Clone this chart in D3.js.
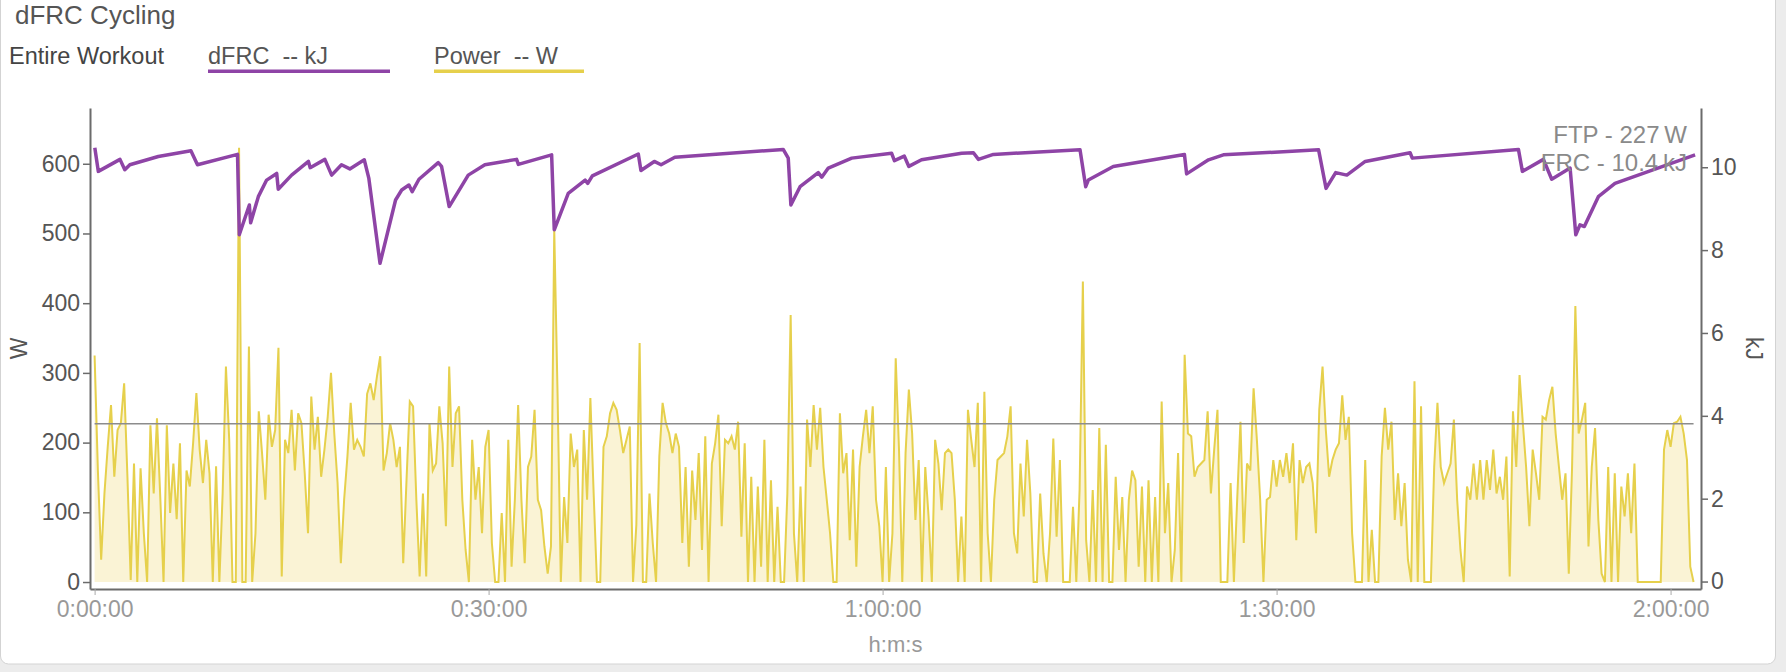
<!DOCTYPE html>
<html>
<head>
<meta charset="utf-8">
<script src="https://cdn.jsdelivr.net/npm/d3@7"></script>
<style>
  body { margin: 0; background: #ececec; }
  svg { display: block; font-family: "Helvetica Neue", Helvetica, Arial, "Liberation Sans", sans-serif; }
  .pre { white-space: pre; }
</style>
</head>
<body>
<svg id="chart" width="1786" height="672"></svg>
<script>
// dFRC cycling chart: power (W, left axis) and dFRC (kJ, right axis) over workout time

var FTP = 227;          // W
var FRC = 10.4;         // kJ
var sampleStep = 15;    // seconds between power samples

// power readings, one every 15 s from 0:00:00
var powerW = [
  325,160,32,127,194,254,151,218,228,285,
  151,3,170,0,163,70,0,225,127,235,
  122,0,225,99,170,90,199,0,160,137,
  199,271,190,142,204,156,0,166,0,127,
  309,204,0,0,623,0,0,338,0,70,
  245,185,118,240,194,218,336,8,204,185,
  247,160,242,228,156,70,266,190,237,151,
  190,237,300,213,142,27,118,180,257,190,
  204,
  194,180,270,285,261,295,324,160,185,228,
  204,165,194,27,146,259,252,118,8,127,
  8,228,160,170,252,199,80,309,165,242,
  252,118,46,0,204,118,165,70,194,218,
  56,0,0,99,0,204,22,118,254,118,
  27,165,180,247,118,103,51,12,51,505,
  271,0,122,56,213,165,190,0,218,118,
  264,127,0,0,194,209,242,257,247,218,
  185,204,223,
  0,82,343,0,0,127,56,0,180,257,
  228,213,185,213,194,56,165,22,160,89,
  185,46,209,0,170,199,240,80,204,199,
  209,190,230,65,199,0,151,0,137,22,
  204,0,146,0,108,0,0,127,383,70,
  0,137,0,233,165,254,190,250,165,118,
  70,0,0,242,156,185,60,190,22,165,
  209,247,185,252,118,80,0,165,0,70,
  321,190,
  0,185,276,213,89,175,0,165,94,0,
  204,170,103,185,190,185,118,0,94,0,
  247,204,165,257,0,273,70,0,118,175,
  180,185,209,252,70,41,170,94,204,127,
  0,0,127,41,0,70,206,65,175,0,
  0,0,108,0,132,431,60,0,132,0,
  221,0,197,0,0,151,46,122,0,118,
  160,146,22,137,0,146,0,122,0,259,
  70,142,
  0,46,185,0,326,213,209,151,165,170,
  175,245,127,190,247,0,0,0,142,0,
  118,230,56,170,160,278,204,118,0,118,
  122,175,137,175,151,185,142,199,60,175,
  142,165,170,142,70,247,309,218,151,175,
  190,199,268,204,237,70,0,0,0,175,
  0,75,0,0,180,250,190,230,89,156,
  80,142,32,0,288,0,252,0,0,0,
  165,257,
  165,142,156,170,233,118,46,0,137,118,
  170,118,175,118,175,132,190,127,151,118,
  180,8,245,165,297,228,165,80,190,156,
  118,237,233,261,280,213,165,118,156,12,
  165,396,213,233,257,51,165,221,89,12,
  0,165,0,156,0,137,94,156,70,170,
  0,0,0,0,0,0,0,0,190,218,
  194,228,230,237,213,175,22,0
];

// dFRC points (seconds, kJ)
var dfrcT = [1,17,116,138,161,291,440,470,653,661,707,713,748,786,832,839,900,977,985,1052,
  1083,1128,1166,1232,1253,1304,1375,1403,1436,1451,1482,1570,1585,1620,1707,1783,1928,1936,
  2088,2100,2164,2241,2253,2274,2484,2496,2557,2588,2651,3146,3169,3181,3223,3306,3322,3352,
  3459,3641,3654,3699,3720,3778,3961,4015,4038,4106,4502,4528,4540,4654,4979,4989,5089,5157,
  5592,5626,5670,5721,5805,6010,6020,6505,6523,6619,6657,6741,6767,6786,6806,6870,6946,7312];
var dfrcKJ = [10.47,9.90,10.19,9.94,10.06,10.26,10.40,10.06,10.31,8.37,9.09,8.66,9.29,9.69,9.85,9.47,9.81,10.14,9.99,10.19,
  9.81,10.06,9.96,10.18,9.73,7.68,9.21,9.45,9.57,9.41,9.71,10.11,10.02,9.05,9.81,10.06,10.19,10.07,
  10.30,8.49,9.37,9.69,9.61,9.79,10.32,9.92,10.14,10.06,10.24,10.43,10.22,9.09,9.53,9.87,9.76,9.98,
  10.22,10.34,10.16,10.27,10.02,10.18,10.34,10.35,10.19,10.31,10.42,9.53,9.69,10.02,10.31,9.84,10.18,10.30,
  10.42,9.49,9.87,9.81,10.14,10.35,10.22,10.43,9.90,10.19,9.71,9.98,8.37,8.61,8.57,9.29,9.61,10.30];

var wTicks = [0,100,200,300,400,500,600];
var kjTicks = [0,2,4,6,8,10];
var timeTicks = [0,1800,3600,5400,7200];

var svg = d3.select('#chart');

// card
svg.append('rect')
  .attr('x', 0.5).attr('y', -10)
  .attr('width', 1775).attr('height', 674)
  .attr('rx', 8)
  .attr('fill', '#fff')
  .attr('stroke', '#d3d3d3');

var plot = {left: 90, right: 1701, top: 108, bottom: 589};

var x = d3.scaleLinear().domain([-21, 7339]).range([plot.left, plot.right]);
var yW = d3.scaleLinear().domain([-10, 680]).range([plot.bottom, plot.top]);
var yKJ = d3.scaleLinear().domain([-0.18, 11.43]).range([plot.bottom, plot.top]);

var power = powerW.map(function(v, i) { return {t: i * sampleStep, w: v}; });
var dfrc = dfrcT.map(function(t, i) { return {t: t, kj: dfrcKJ[i]}; });

// power area + line
svg.append('path')
  .datum(power)
  .attr('fill', '#faf3d5')
  .attr('d', d3.area().x(d => x(d.t)).y0(yW(0)).y1(d => yW(d.w)));

svg.append('path')
  .datum(power)
  .attr('fill', 'none')
  .attr('stroke', '#e6d04c')
  .attr('stroke-width', 2)
  .attr('d', d3.line().x(d => x(d.t)).y(d => yW(d.w)));

// FTP line
svg.append('line')
  .attr('x1', x(0)).attr('x2', x(power[power.length - 1].t))
  .attr('y1', yW(FTP)).attr('y2', yW(FTP))
  .attr('stroke', '#8c8c8c')
  .attr('stroke-width', 1.6);

// dFRC line
svg.append('path')
  .datum(dfrc)
  .attr('fill', 'none')
  .attr('stroke', '#8e44a6')
  .attr('stroke-width', 3.5)
  .attr('stroke-linejoin', 'round')
  .attr('d', d3.line().x(d => x(d.t)).y(d => yKJ(d.kj)));

// axes
function styleAxis(g, color) {
  g.select('.domain').attr('stroke', '#6b6b6b').attr('stroke-width', 2);
  g.selectAll('.tick line').attr('stroke', '#6b6b6b').attr('stroke-width', 1.5);
  g.selectAll('.tick text').attr('fill', color).attr('font-size', 23).attr('font-family', null);
}

var gl = svg.append('g')
  .attr('transform', 'translate(' + plot.left + ',0)')
  .call(d3.axisLeft(yW).tickValues(wTicks).tickSize(7).tickSizeOuter(0).tickPadding(3));
styleAxis(gl, '#555');

var gr = svg.append('g')
  .attr('transform', 'translate(' + plot.right + ',0)')
  .call(d3.axisRight(yKJ).tickValues(kjTicks).tickSize(7).tickSizeOuter(0).tickPadding(3));
styleAxis(gr, '#555');

function hms(s) {
  var h = Math.floor(s / 3600), m = Math.floor((s % 3600) / 60), sec = s % 60;
  return h + ':' + String(m).padStart(2, '0') + ':' + String(sec).padStart(2, '0');
}

var gb = svg.append('g')
  .attr('transform', 'translate(0,' + plot.bottom + ')')
  .call(d3.axisBottom(x).tickValues(timeTicks).tickFormat(hms).tickSize(6).tickSizeOuter(0).tickPadding(6));
styleAxis(gb, '#999');
gb.selectAll('.tick line').attr('stroke', '#aaa').attr('stroke-width', 1);

// axis titles
svg.append('text')
  .attr('transform', 'translate(27,' + (plot.top + plot.bottom) / 2 + ') rotate(-90)')
  .attr('text-anchor', 'middle')
  .attr('fill', '#555').attr('font-size', 23)
  .text('W');

svg.append('text')
  .attr('transform', 'translate(1746,' + (plot.top + plot.bottom) / 2 + ') rotate(90)')
  .attr('text-anchor', 'middle')
  .attr('fill', '#555').attr('font-size', 23)
  .text('kJ');

svg.append('text')
  .attr('x', (plot.left + plot.right) / 2).attr('y', 652)
  .attr('text-anchor', 'middle')
  .attr('fill', '#999').attr('font-size', 22)
  .text('h:m:s');

// FTP / FRC notes
svg.append('text')
  .attr('x', 1687).attr('y', 143)
  .attr('text-anchor', 'end')
  .attr('fill', '#8a8a8a').attr('font-size', 24)
  .text('FTP - ' + FTP + '\u2009W');
svg.append('text')
  .attr('x', 1687).attr('y', 171)
  .attr('text-anchor', 'end')
  .attr('fill', '#8a8a8a').attr('font-size', 24)
  .text('FRC - ' + FRC + '\u2009kJ');

// title and legend
svg.append('text')
  .attr('x', 15).attr('y', 24)
  .attr('fill', '#555').attr('font-size', 26)
  .text('dFRC Cycling');

svg.append('text')
  .attr('x', 9).attr('y', 64)
  .attr('fill', '#444').attr('font-size', 23.5)
  .text('Entire Workout');

var legend = [
  {label: 'dFRC  -- kJ', color: '#8e44a6', x: 208, w: 182},
  {label: 'Power  -- W', color: '#e6d04c', x: 434, w: 150}
];
var lg = svg.selectAll('g.legend').data(legend).enter().append('g').attr('class', 'legend');
lg.append('text')
  .attr('class', 'pre')
  .attr('x', d => d.x).attr('y', 64)
  .attr('fill', '#555').attr('font-size', 23.5)
  .text(d => d.label);
lg.append('rect')
  .attr('x', d => d.x).attr('y', 69.5)
  .attr('width', d => d.w).attr('height', 3.5)
  .attr('fill', d => d.color);
</script>
</body>
</html>
